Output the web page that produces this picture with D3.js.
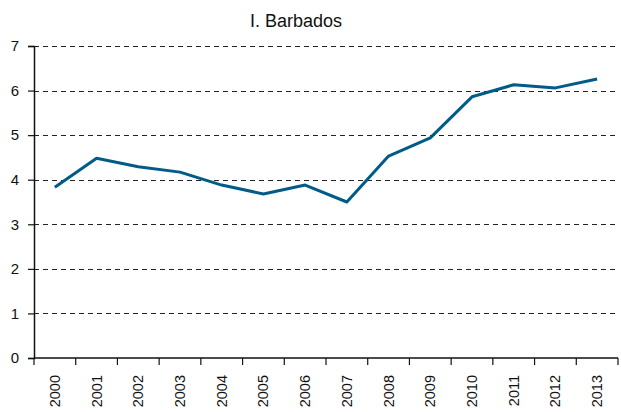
<!DOCTYPE html>
<html><head><meta charset="utf-8">
<script src="https://cdn.jsdelivr.net/npm/d3@7"></script>
<style>body{margin:0;background:#fff}svg{display:block}text{font-family:"Liberation Sans",Arial,sans-serif;fill:#111}</style>
</head><body><div id="c"></div>
<script>
const years = ["2000","2001","2002","2003","2004","2005","2006","2007","2008","2009","2010","2011","2012","2013"];
const values = [3.83,4.48,4.29,4.17,3.88,3.68,3.88,3.50,4.53,4.94,5.86,6.13,6.06,6.26];
const yTicks = [0,1,2,3,4,5,6,7];
const title = "I. Barbados";

const W=621,H=412, m={l:34,r:3,t:46,b:54};
const svg=d3.select("#c").append("svg").attr("width",W).attr("height",H);
const x=d3.scaleBand().domain(years).range([m.l,W-m.r]);
const y=d3.scaleLinear().domain([0,7]).range([H-m.b,m.t]);

svg.append("text").attr("x",296).attr("y",27).attr("text-anchor","middle").style("font-size","18px").text(title);

// grid
svg.append("g").selectAll("line").data(yTicks.filter(d=>d>0)).join("line")
 .attr("x1",m.l).attr("x2",W-m.r).attr("y1",d=>Math.round(y(d))+0.5).attr("y2",d=>Math.round(y(d))+0.5)
 .attr("stroke","#222").attr("stroke-width",1).attr("stroke-dasharray","5,4");

// y axis
const ya=svg.append("g").attr("transform",`translate(${m.l},0)`)
 .call(d3.axisLeft(y).tickValues(yTicks).tickSize(6).tickPadding(9).tickFormat(d3.format("d")));
ya.select(".domain").attr("stroke","#111").attr("stroke-width",1.5);
ya.selectAll(".tick line").attr("stroke","#111").attr("stroke-width",1.2);
ya.selectAll("text").style("font-size","15px").attr("fill","#111");

// x axis with ticks at band boundaries
const xa=svg.append("g").attr("transform",`translate(0,${H-m.b})`);
xa.append("line").attr("x1",m.l).attr("x2",W-m.r).attr("stroke","#111").attr("stroke-width",1.5);
const bounds=years.map(d=>x(d)).concat([x.range()[1]]);
xa.selectAll(".tk").data(bounds).join("line").attr("class","tk")
 .attr("x1",d=>d).attr("x2",d=>d).attr("y1",0).attr("y2",7).attr("stroke","#111").attr("stroke-width",1.2);
xa.selectAll(".lb").data(years).join("text").attr("class","lb")
 .attr("transform",d=>`translate(${x(d)+x.bandwidth()/2+5},17) rotate(-90)`)
 .attr("text-anchor","end").style("font-size","14.5px").text(d=>d);

// line
const line=d3.line().x((d,i)=>x(years[i])+x.bandwidth()/2).y(d=>y(d));
svg.append("path").datum(values).attr("d",line).attr("fill","none")
 .attr("stroke","#005b88").attr("stroke-width",3).attr("stroke-linejoin","round");
</script></body></html>
